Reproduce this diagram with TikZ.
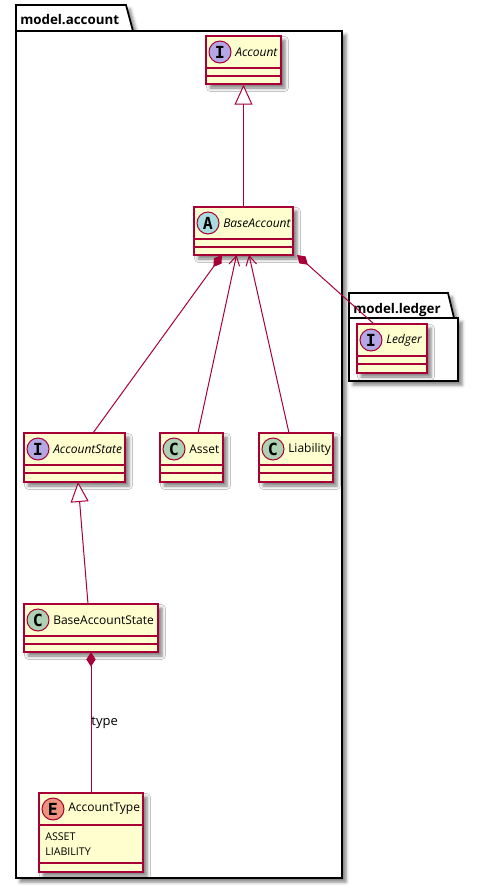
\documentclass[tikz,border=0pt]{standalone}
\usepackage{fontspec}
\setmainfont{Open Sans}
\newfontfamily\badgefont{DejaVu Sans Mono}
\usetikzlibrary{arrows.meta,shadows.blur,fit}
\definecolor{umlred}{HTML}{A80036}
\definecolor{umlfill}{HTML}{FEFECE}
\definecolor{cI}{HTML}{B4A7E5}
\definecolor{cA}{HTML}{A9DCDF}
\definecolor{cC}{HTML}{ADD1B2}
\definecolor{cE}{HTML}{EB937F}
\tikzset{
  umlshadow/.style={blur shadow={shadow xshift=3pt,shadow yshift=-3pt,shadow blur radius=2.5pt,shadow opacity=50}},
  umlbox/.style={draw=umlred, fill=umlfill, line width=1.1pt, inner sep=0pt, umlshadow},
  sepline/.style={draw=umlred, line width=1.1pt},
  badge/.style={circle, draw=umlred, line width=0.75pt, minimum size=16.5pt, inner sep=0pt, font=\badgefont\bfseries\fontsize{12.5}{12}\selectfont},
  cname/.style={anchor=west, inner sep=0pt, font=\fontsize{9}{11}\selectfont},
  attr/.style={anchor=west, inner sep=0pt, font=\fontsize{8}{10}\selectfont},
  conn/.style={draw=umlred, line width=0.75pt},
  pkg/.style={draw=black, line width=1.3pt, fill=white, umlshadow},
  pkgtitle/.style={anchor=base west, inner sep=0pt, font=\bfseries\fontsize{10}{12}\selectfont},
  gen/.style={conn, -{Triangle[length=15pt, width=13.5pt, fill=white]}},
  assoc/.style={conn, -{Straight Barb[length=7pt, width=8pt]}},
  comp/.style={conn, {Diamond[length=11pt, width=7pt, fill=umlred]}-},
}
% id, x1, y1, x2, y2, letter, colour, name, second separator offset
\newcommand{\umlclass}[9]{%
  \node[umlbox, fit={(#2,#3) (#4,#5)}] (#1) {};
  \draw[sepline] (#2,#3+32) -- (#4,#3+32);
  \draw[sepline] (#2,#3+#9) -- (#4,#3+#9);
  \node[badge, fill=#7] (#1-c) at (#2+14,#3+16) {#6};
  \node[cname] (#1-t) at (#2+29,#3+16) {#8};
}
\begin{document}
\begin{tikzpicture}[x=0.75pt, y=-0.75pt]
\useasboundingbox (0,0) rectangle (478,890);
% package model.account
\path[pkg] (16,31) -- (16,5) -- (126,5) -- (133,31) -- (342,31) -- (342,878) -- (16,878) -- cycle;
\draw[black, line width=1.3pt] (16,31) -- (342,31);
\node[pkgtitle] (pacc) at (20,24) {model.account};
% package model.ledger
\path[pkg] (349,318) -- (349,293) -- (448,293) -- (454,318) -- (458,318) -- (458,381) -- (349,381) -- cycle;
\draw[black, line width=1.3pt] (349,318) -- (458,318);
\node[pkgtitle] (pled) at (353,313) {model.ledger};
% classes
\umlclass{account}{206}{36}{281}{84}{I}{cI}{\itshape Account}{40}
\umlclass{baseaccount}{194}{207}{293}{255}{A}{cA}{\itshape BaseAccount}{40}
\umlclass{ledger}{357}{324}{427}{373}{I}{cI}{\itshape Ledger}{40}
\umlclass{accountstate}{24}{433}{125}{482}{I}{cI}{\itshape AccountState}{40}
\umlclass{asset}{160}{433}{223}{482}{C}{cC}{Asset}{40}
\umlclass{liability}{259}{433}{333}{482}{C}{cC}{Liability}{40}
\umlclass{baseaccountstate}{24}{604}{158}{652}{C}{cC}{BaseAccountState}{40}
\umlclass{accounttype}{39}{793}{143}{872}{E}{cE}{AccountType}{70}
\node[attr] (at1) at (45,837) {ASSET};
\node[attr] (at2) at (45,852) {LIABILITY};
% ports
\coordinate (ba-p1) at (222,255);
\coordinate (ba-p2) at (236.5,255);
\coordinate (ba-p3) at (249,255);
\coordinate (ba-p4) at (297,255);
\coordinate (as-top) at (93,433);
\coordinate (asset-top) at (198,433);
\coordinate (li-top) at (289,433);
\coordinate (le-top) at (374,324);
\coordinate (as-bot) at (78,482);
\coordinate (bas-top) at (88,604);
\coordinate (bas-bot) at (91,652);
\coordinate (at-top) at (91,793);
% connectors
\draw[gen] (baseaccount.north) -- (account.south);
\draw[comp] (ba-p1) -- (as-top);
\draw[assoc] (asset-top) -- (ba-p2);
\draw[assoc] (li-top) -- (ba-p3);
\draw[comp] (ba-p4) -- (le-top);
\draw[gen] (bas-top) -- (as-bot);
\draw[comp] (bas-bot) -- node[pos=0.5, anchor=west, inner sep=0pt, font=\fontsize{9.75}{11}\selectfont] (typelbl) {type} (at-top);
\end{tikzpicture}
\end{document}
